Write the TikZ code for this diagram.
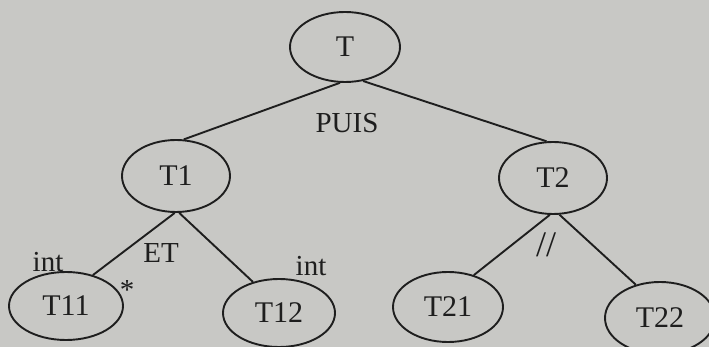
\documentclass[tikz,border=0pt]{standalone}
\usepackage{fontspec}
\setmainfont{Liberation Serif}
\usetikzlibrary{shapes.geometric}
\definecolor{paper}{RGB}{200,200,197}
\definecolor{ink}{RGB}{30,30,30}
\tikzset{
  tnode/.style={ellipse,draw=ink,line width=1.9pt,inner sep=0pt,minimum width=110pt,minimum height=70pt,font=\fontsize{30}{30}\selectfont,text=ink},
  edge/.style={draw=ink,line width=1.9pt},
  lbl/.style={font=\fontsize{29}{29}\selectfont,text=ink,inner sep=0pt}
}
\begin{document}
\begin{tikzpicture}[x=1pt,y=-1pt]
\fill[paper] (0,0) rectangle (709,347);
\useasboundingbox (0,0) rectangle (709,347);
\node[tnode] (T) at (345,47) {T};
\node[tnode,minimum width=108pt,minimum height=72pt] (T1) at (176,176) {T1};
\node[tnode,minimum width=108pt,minimum height=72pt] (T2) at (553,178) {T2};
\node[tnode,minimum width=114pt,minimum height=68pt] (T11) at (66,306) {T11};
\node[tnode,minimum width=112pt,minimum height=68pt] (T12) at (279,313) {T12};
\node[tnode] (T21) at (448,307) {T21};
\node[tnode,minimum height=72pt] (T22) at (660,318) {T22};
\draw[edge] (T.262) -- (T1.78);
\draw[edge] (T.298) -- (T2.100);
\draw[edge] (T1.268) -- (T11.49);
\draw[edge] (T1.275) -- (T12.130);
\draw[edge] (T2.265) -- (T21.51);
\draw[edge] (T2.280) -- (T22.126);
\node[lbl] (puis) at (347,123) {PUIS};
\node[lbl] (et) at (161,253) {ET};
\node[lbl] (int1) at (48,262) {int};
\node[lbl] (int2) at (311,266) {int};
\node[lbl] (star) at (127,290) {*};
\node[lbl,font=\fontsize{36}{36}\selectfont] (par) at (546,245) {//};
\end{tikzpicture}
\end{document}
